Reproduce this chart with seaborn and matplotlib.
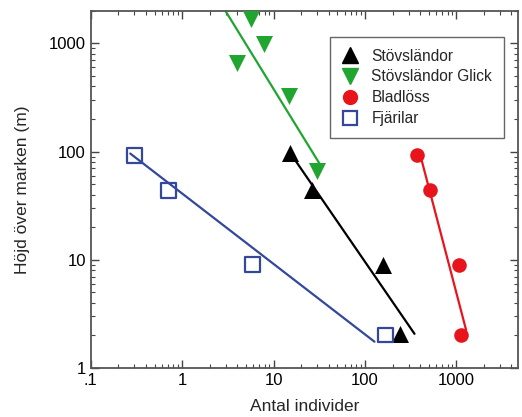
import matplotlib
matplotlib.use("Agg")
import matplotlib.pyplot as plt
import seaborn as sns
import pandas as pd
from matplotlib.lines import Line2D
from matplotlib.ticker import FixedLocator, FixedFormatter, LogLocator, NullFormatter

# ---- data ----
groups = ["Stövsländor", "Stövsländor Glick", "Bladlöss", "Fjärilar"]

stov_x = [15.2, 26.2, 157, 243]
stov_y = [97, 44.5, 9.0, 2.05]

glick_x = [5.7, 7.8, 4.0, 14.7, 29.7]
glick_y = [1670, 980, 653, 325, 66]

blad_x = [369, 516, 1060, 1125]
blad_y = [92.5, 43.8, 9.0, 2.02]

fjar_x = [0.30, 0.71, 5.9, 167]
fjar_y = [92, 43.5, 9.0, 2.02]

# fitted lines (endpoints)
stov_fit_x = [15.6, 348]
stov_fit_y = [94, 2.07]
glick_fit_x = [2.6, 33.2]
glick_fit_y = [2400, 73]
blad_fit_x = [411, 1276]
blad_fit_y = [87, 2.25]
fjar_fit_x = [0.27, 127]
fjar_fit_y = [96, 1.75]

x_ticks = [0.1, 1, 10, 100, 1000]
x_ticklabels = [".1", "1", "10", "100", "1000"]
y_ticks = [1, 10, 100, 1000]
y_ticklabels = ["1", "10", "100", "1000"]

# ---- styles ----
c_black = "#000000"
c_green = "#21a531"
c_red = "#e8141c"
c_blue = "#33479b"

sns.set_theme(style="white")
plt.rcParams["font.family"] = ["Liberation Sans", "DejaVu Sans"]

fig = plt.figure(figsize=(5.22, 4.17), dpi=100)
ax = fig.add_axes([0.174, 0.1175, 0.818, 0.8565])

ax.set_xscale("log")
ax.set_yscale("log")

fits = [
    (stov_fit_x, stov_fit_y, c_black),
    (glick_fit_x, glick_fit_y, c_green),
    (blad_fit_x, blad_fit_y, c_red),
    (fjar_fit_x, fjar_fit_y, c_blue),
]
for fx, fy, col in fits:
    sns.lineplot(x=fx, y=fy, ax=ax, color=col, linewidth=1.6, estimator=None,
                 sort=False, legend=False)

sns.scatterplot(x=stov_x, y=stov_y, ax=ax, marker="^", s=150, color=c_black,
                edgecolor=c_black, linewidth=0, legend=False, zorder=3)
sns.scatterplot(x=glick_x, y=glick_y, ax=ax, marker="v", s=150, color=c_green,
                edgecolor=c_green, linewidth=0, legend=False, zorder=3)
sns.scatterplot(x=blad_x, y=blad_y, ax=ax, marker="o", s=110, color=c_red,
                edgecolor=c_red, linewidth=0, legend=False, zorder=3)
sns.scatterplot(x=fjar_x, y=fjar_y, ax=ax, marker="s", s=110, facecolor="none",
                edgecolor=c_blue, linewidth=1.6, legend=False, zorder=3)

ax.set_xlim(0.1, 4700)
ax.set_ylim(1, 2000)

ax.xaxis.set_major_locator(FixedLocator(x_ticks))
ax.xaxis.set_major_formatter(FixedFormatter(x_ticklabels))
ax.yaxis.set_major_locator(FixedLocator(y_ticks))
ax.yaxis.set_major_formatter(FixedFormatter(y_ticklabels))
ax.xaxis.set_minor_locator(LogLocator(base=10, subs=range(2, 10)))
ax.yaxis.set_minor_locator(LogLocator(base=10, subs=range(2, 10)))
ax.xaxis.set_minor_formatter(NullFormatter())
ax.yaxis.set_minor_formatter(NullFormatter())

ax.tick_params(which="both", direction="in", top=True, right=True,
               bottom=True, left=True, colors="#444444", labelcolor="black",
               labelsize=12)
ax.tick_params(which="major", length=6, width=1)
ax.tick_params(which="minor", length=3, width=0.8)

for sp in ax.spines.values():
    sp.set_color("#555555")
    sp.set_linewidth(1.3)

ax.set_xlabel("Antal individer", fontsize=12.5, labelpad=8)
ax.set_ylabel("Höjd över marken (m)", fontsize=12.5, labelpad=14)

handles = [
    Line2D([], [], linestyle="none", marker="^", markersize=12, color=c_black),
    Line2D([], [], linestyle="none", marker="v", markersize=12, color=c_green),
    Line2D([], [], linestyle="none", marker="o", markersize=10, color=c_red),
    Line2D([], [], linestyle="none", marker="s", markersize=10,
           markerfacecolor="none", markeredgecolor=c_blue, markeredgewidth=1.6),
]
leg = ax.legend(handles, groups, loc="upper right",
                bbox_to_anchor=(0.967, 0.927), borderaxespad=0,
                fontsize=11.2, frameon=True, fancybox=False, framealpha=1,
                edgecolor="#666666", labelspacing=0.38, handlelength=1.15,
                handletextpad=0.78, borderpad=0.75)
leg.get_frame().set_linewidth(1.0)

fig.savefig("out.png", dpi=100)
